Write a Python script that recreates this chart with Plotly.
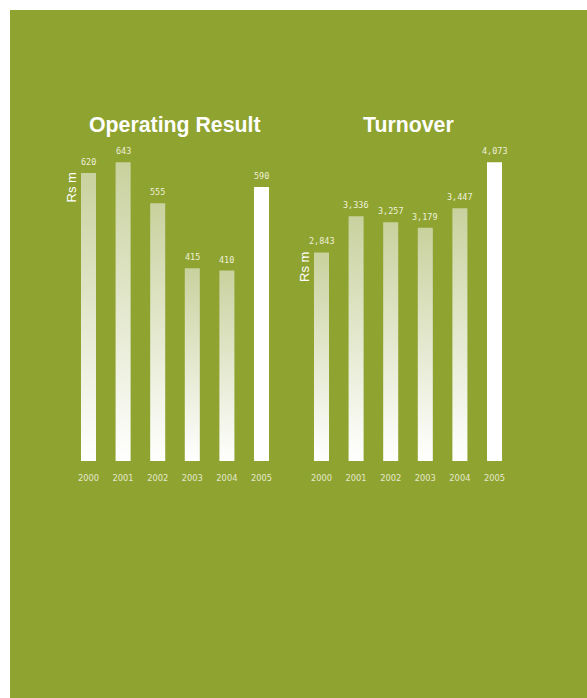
import plotly.graph_objects as go

# Data
years = ["2000", "2001", "2002", "2003", "2004", "2005"]
operating_result = [620, 643, 555, 415, 410, 590]
turnover = [2843, 3336, 3257, 3179, 3447, 4073]

W, H = 587, 698
GREEN = "#8fa330"
TOP_TINT = "#c9d19e"
LABEL_COLOR = "#eef0da"
BAR_WIDTH = 0.434


def px_x(p):
    return p / W


def px_y(p):
    return 1 - p / H


fig = go.Figure()
annotations = []

panels = [
    dict(values=operating_result, xa="x", ya="y"),
    dict(values=turnover, xa="x2", ya="y2"),
]

for panel in panels:
    vals = panel["values"]
    last = len(vals) - 1
    for i, v in enumerate(vals):
        x0, x1 = i - BAR_WIDTH / 2, i + BAR_WIDTH / 2
        top_color = "#ffffff" if i == last else TOP_TINT
        fig.add_trace(go.Scatter(
            x=[x0, x1, x1, x0, x0],
            y=[0, 0, v, v, 0],
            mode="lines",
            fill="toself",
            line=dict(width=0, color="rgba(0,0,0,0)"),
            fillgradient=dict(type="vertical",
                              colorscale=[[0, "#ffffff"], [1, top_color]]),
            xaxis=panel["xa"], yaxis=panel["ya"],
            hoverinfo="skip", showlegend=False,
        ))
        # value label above the bar
        annotations.append(dict(
            text=f"{v:,}", x=i, y=v, xref=panel["xa"], yref=panel["ya"],
            xanchor="center", yanchor="bottom", yshift=4, showarrow=False,
            font=dict(family="DejaVu Sans Mono", size=8.5, color=LABEL_COLOR),
        ))

# panel geometry
ybottom, ytop = 461, 135.5
left_scale = 0.4646          # px per Rs m
right_scale = 0.07334
axis_common = dict(
    tickmode="array",
    tickvals=list(range(len(years))),
    ticktext=years,
    range=[-0.5, 5.5],
    showgrid=False, zeroline=False, showline=False, ticks="",
    tickfont=dict(family="DejaVu Sans", size=8.3, color="#e4e8cc"),
    ticklabelstandoff=11,
    fixedrange=True,
)
yaxis_common = dict(
    visible=False, showgrid=False, zeroline=False,
    domain=[px_y(ybottom), px_y(ytop)], fixedrange=True,
)

title_font = dict(family="Liberation Sans", size=21.3, color="white")
unit_font = dict(family="Liberation Sans", size=13, color="white")
annotations += [
    dict(text="<b>Operating Result</b>", xref="paper", yref="paper",
         x=px_x(175), y=px_y(125), xanchor="center", yanchor="middle",
         showarrow=False, font=title_font),
    dict(text="<b>Turnover</b>", xref="paper", yref="paper",
         x=px_x(408), y=px_y(125), xanchor="center", yanchor="middle",
         showarrow=False, font=title_font),
    dict(text="Rs m", xref="paper", yref="paper", textangle=-90,
         x=px_x(70.5), y=px_y(188), xanchor="center", yanchor="middle",
         showarrow=False, font=unit_font),
    dict(text="Rs m", xref="paper", yref="paper", textangle=-90,
         x=px_x(304), y=px_y(267), xanchor="center", yanchor="middle",
         showarrow=False, font=unit_font),
]

fig.update_layout(
    width=W, height=H,
    margin=dict(l=0, r=0, t=0, b=0),
    paper_bgcolor="white",
    plot_bgcolor="rgba(0,0,0,0)",
    xaxis=dict(domain=[px_x(71.2), px_x(278.8)], anchor="y", **axis_common),
    yaxis=dict(range=[0, (ybottom - ytop) / left_scale], anchor="x", **yaxis_common),
    xaxis2=dict(domain=[px_x(304.2), px_x(511.8)], anchor="y2", **axis_common),
    yaxis2=dict(range=[0, (ybottom - ytop) / right_scale], anchor="x2", **yaxis_common),
    shapes=[dict(type="rect", xref="paper", yref="paper",
                 x0=px_x(10), x1=1, y0=0, y1=px_y(10),
                 fillcolor=GREEN, line=dict(width=0), layer="below")],
    annotations=annotations,
)

fig.write_html("out.html")
